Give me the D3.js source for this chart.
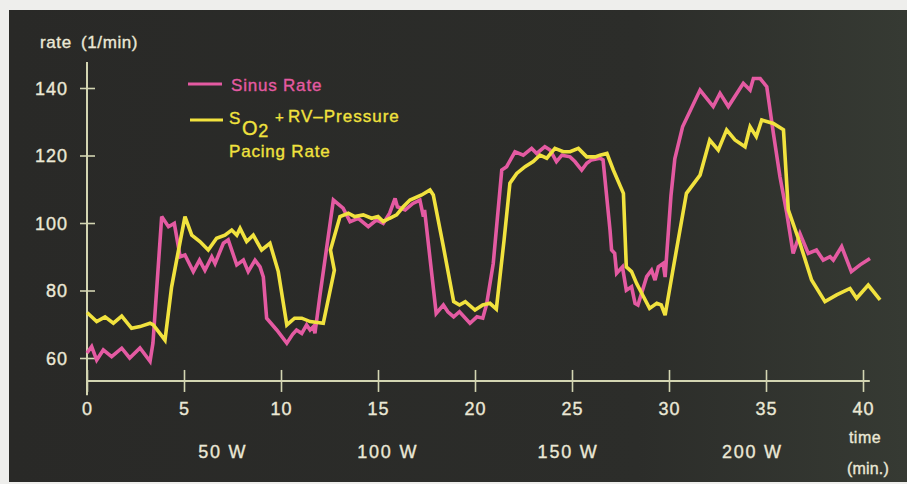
<!DOCTYPE html>
<html>
<head>
<meta charset="utf-8">
<script src="https://cdn.jsdelivr.net/npm/d3@7/dist/d3.min.js"></script>
<style>
  html, body { margin: 0; padding: 0; background: #eeeeec; }
  svg { display: block; }
  text { font-family: "Liberation Sans", Arial, Helvetica, sans-serif; fill: #ebe8d6; }
</style>
</head>
<body>
<svg id="chart" width="907" height="484"></svg>
<script>
// Heart rate during a stepwise bicycle exercise test (time in minutes)
const sinusTime = [0, 0.24, 0.5, 0.84, 1.27, 1.79, 2.2, 2.73, 3.25, 3.4, 3.85, 4.2, 4.5, 4.8, 5.05, 5.48, 5.8, 6.08, 6.43, 6.6, 7.03, 7.28, 7.72, 8.06, 8.31, 8.66, 8.92, 9.09, 9.26, 9.78, 10.3, 10.6, 10.8, 11.07, 11.32, 11.5, 11.67, 11.75, 12.0, 12.7, 13.2, 13.56, 13.98, 14.5, 14.93, 15.27, 15.6, 15.88, 16.0, 16.4, 16.8, 17.16, 17.34, 17.4, 18.0, 18.37, 18.6, 18.9, 19.2, 19.74, 20.1, 20.4, 20.6, 20.94, 21.38, 21.63, 22.06, 22.49, 22.92, 23.18, 23.6, 23.87, 24.2, 24.48, 24.9, 25.15, 25.5, 25.76, 26.0, 26.44, 26.6, 26.96, 27.04, 27.2, 27.3, 27.6, 27.8, 28.07, 28.25, 28.4, 28.85, 29.1, 29.28, 29.45, 29.7, 29.8, 30.1, 30.3, 30.7, 31.6, 32.28, 32.63, 33.06, 33.83, 34.18, 34.35, 34.7, 35.04, 35.38, 35.72, 36.07, 36.4, 36.75, 37.18, 37.6, 37.95, 38.3, 38.47, 38.9, 39.4, 39.85, 40.36];
const sinusRate = [61.5, 63.4, 59.4, 62.4, 60.4, 62.9, 60, 63, 59, 64.4, 101.9, 98.9, 99.9, 90, 90.5, 85.6, 89, 86, 90, 88, 94, 95, 87.6, 89, 85.6, 89, 87, 84, 71.8, 68.3, 64.4, 67, 68.3, 67.3, 69.8, 68.3, 69.3, 67.3, 78.2, 106.8, 104.4, 100.4, 101.4, 98.9, 100.9, 99.9, 102.9, 107.3, 104.8, 103.9, 105.8, 106.8, 101.9, 103.9, 73.2, 75.7, 73.7, 72.2, 73.7, 70.3, 72.2, 71.8, 76, 88, 115.7, 116.7, 121.1, 120.1, 122.1, 120.6, 122.6, 121.6, 118.2, 120.1, 119.6, 118.2, 115.7, 117.7, 118.7, 119.2, 118.7, 97.9, 92, 91, 85.1, 87, 80.1, 81.1, 76.2, 75.7, 84.1, 86, 83.1, 87, 88, 84, 108, 119, 128.5, 139.4, 134.5, 138.4, 134.5, 141.4, 139.4, 142.8, 142.8, 140.4, 126.6, 113.7, 102.9, 91, 96.9, 91, 92, 89, 90, 89, 93, 85.6, 87.6, 89.5];

const pacingTime = [0, 0.5, 0.93, 1.36, 1.79, 2.3, 2.73, 3.25, 3.42, 4.02, 4.36, 4.62, 5.05, 5.4, 5.82, 6.25, 6.68, 7.11, 7.46, 7.72, 7.89, 8.23, 8.57, 9.0, 9.43, 9.86, 10.3, 10.7, 11.07, 11.5, 12.18, 12.75, 12.55, 13.04, 13.47, 13.8, 14.24, 14.67, 15.0, 15.27, 15.6, 15.96, 16.3, 16.65, 17.25, 17.68, 17.85, 18.37, 18.9, 19.2, 19.5, 20.0, 20.4, 20.77, 21.1, 21.5, 21.8, 22.15, 22.58, 23.0, 23.35, 23.7, 24.12, 24.55, 24.9, 25.33, 25.76, 26.2, 26.44, 26.8, 27.13, 27.65, 27.8, 28.07, 28.33, 28.6, 29.0, 29.37, 29.6, 29.8, 30.2, 30.9, 31.6, 32.1, 32.54, 32.97, 33.4, 33.92, 34.18, 34.5, 34.78, 35.38, 35.9, 36.15, 36.75, 37.35, 38.04, 38.64, 39.33, 39.67, 40.27, 40.88];
const pacingRate = [73.5, 70.8, 72.2, 70.3, 72.4, 68.8, 69.3, 70.3, 69.8, 65.3, 81, 89, 101.9, 96.4, 94.5, 92, 95.5, 96.4, 97.9, 96.4, 98.4, 94.5, 96.4, 92, 94, 85.6, 69.8, 71.8, 71.8, 70.8, 70.3, 86, 92, 101.9, 102.9, 101.9, 102.4, 101.4, 101.9, 100.4, 101.4, 102.4, 104.8, 106.8, 108.3, 109.8, 108.3, 93, 76.7, 75.7, 76.7, 74.2, 75.7, 76.2, 74.5, 95, 111.8, 114.7, 116.7, 118.2, 120.1, 119.2, 122.1, 121.1, 121.1, 122.1, 119.6, 119.6, 120.1, 120.6, 115.7, 108.8, 87, 85.6, 82.1, 79.1, 74.7, 76.2, 75.7, 72.7, 86, 108.8, 114.2, 124.6, 121.6, 127.6, 124.6, 122.6, 128.5, 125.6, 130.5, 129.5, 127.6, 103.9, 94, 83.1, 76.7, 78.7, 80.6, 77.7, 81.6, 77.2];

const yTicks = [60, 80, 100, 120, 140];
const xTicks = [0, 5, 10, 15, 20, 25, 30, 35, 40];
const workloadLabels = ["50 W", "100 W", "150 W", "200 W"];
const workloadAt = [7, 15.5, 24.8, 34.3];

const svg = d3.select("#chart");

// dark backdrop
const defs = svg.append("defs");
const grad = defs.append("linearGradient").attr("id", "bg").attr("x1", 0).attr("x2", 1).attr("y1", 0).attr("y2", 0);
grad.append("stop").attr("offset", "0%").attr("stop-color", "#292927");
grad.append("stop").attr("offset", "70%").attr("stop-color", "#2c2d2a");
grad.append("stop").attr("offset", "100%").attr("stop-color", "#363a33");
svg.append("rect").attr("x", 9).attr("y", 10).attr("width", 898).attr("height", 472).attr("fill", "url(#bg)");

const x = d3.scaleLinear().domain([0, 40]).range([87, 863]);
const y = d3.scaleLinear().domain([60, 140]).range([358, 88]);

const axisColor = "#d3d5b2";
const labelColor = "#ebe8d6";
const xAxisAt = 53.2;     // value where the time axis sits
const yAxisTop = 147.7;   // upper end of the rate axis
const yAxisBottom = 49;   // rate axis runs a little past the time axis

// rate axis
const yAxis = svg.append("g").attr("transform", `translate(${x(0)},0)`)
  .call(d3.axisLeft(y).tickValues(yTicks).tickSize(0).tickPadding(19));
yAxis.select(".domain").remove();
yAxis.selectAll(".tick line").attr("x1", -7).attr("x2", 8).attr("stroke", axisColor).attr("stroke-width", 1.6);
yAxis.selectAll(".tick text").attr("font-size", 18).attr("letter-spacing", 1).attr("fill", labelColor)
  .attr("dy", "0.36em");
yAxis.append("line").attr("x1", 0).attr("x2", 0).attr("y1", y(yAxisTop)).attr("y2", y(yAxisBottom))
  .attr("stroke", axisColor).attr("stroke-width", 2);

// time axis
const xAxis = svg.append("g").attr("transform", `translate(0,${y(xAxisAt)})`)
  .call(d3.axisBottom(x).tickValues(xTicks).tickSize(0).tickPadding(21));
xAxis.select(".domain").remove();
xAxis.selectAll(".tick line").attr("y1", -11).attr("y2", 11).attr("stroke", axisColor).attr("stroke-width", 1.6);
xAxis.selectAll(".tick text").attr("font-size", 18).attr("letter-spacing", 1).attr("fill", labelColor);
xAxis.append("line").attr("x1", x(0)).attr("x2", x(40.35)).attr("y1", 0).attr("y2", 0)
  .attr("stroke", axisColor).attr("stroke-width", 2);

// workload stage labels
svg.append("g").selectAll("text").data(workloadLabels).join("text")
  .attr("x", (d, i) => x(workloadAt[i])).attr("y", 458)
  .attr("text-anchor", "middle").attr("font-size", 18).attr("letter-spacing", 1.8)
  .text(d => d);

svg.append("text").attr("x", 865).attr("y", 443).attr("text-anchor", "middle")
  .attr("font-size", 16).attr("letter-spacing", 0.5).text("time");
svg.append("text").attr("x", 868).attr("y", 474).attr("text-anchor", "middle")
  .attr("font-size", 16).attr("letter-spacing", 0.2).text("(min.)");

svg.append("text").attr("x", 40).attr("y", 48).attr("font-size", 17).attr("letter-spacing", 0.6)
  .attr("word-spacing", 4).text("rate (1/min)");

// series
const pink = "#e45aa2";
const yellow = "#f1e23e";
const line = d3.line().x(d => x(d[0])).y(d => y(d[1]));
const sinusPts = sinusTime.map((t, i) => [t, sinusRate[i]]);
const pacingPts = pacingTime.map((t, i) => [t, pacingRate[i]]);

svg.append("path").datum(sinusPts).attr("d", line).attr("fill", "none")
  .attr("stroke", pink).attr("stroke-width", 3.6).attr("stroke-linejoin", "miter").attr("stroke-miterlimit", 3);
svg.append("path").datum(pacingPts).attr("d", line).attr("fill", "none")
  .attr("stroke", yellow).attr("stroke-width", 3.6).attr("stroke-linejoin", "miter").attr("stroke-miterlimit", 3);

// legend
const lg = svg.append("g");
lg.append("line").attr("x1", 188).attr("x2", 222).attr("y1", 84).attr("y2", 84).attr("stroke", pink).attr("stroke-width", 3);
lg.append("text").attr("x", 231).attr("y", 91).attr("font-size", 17).attr("letter-spacing", 0.8)
  .style("fill", pink).text("Sinus Rate");
lg.append("line").attr("x1", 190).attr("x2", 223).attr("y1", 120).attr("y2", 120).attr("stroke", yellow).attr("stroke-width", 3);
const lt = lg.append("text").attr("x", 229).attr("y", 124).attr("font-size", 17).attr("letter-spacing", 0.8)
  .style("fill", yellow);
lt.append("tspan").text("S");
lt.append("tspan").attr("x", 242).attr("y", 135).attr("font-size", 20).text("O");
lt.append("tspan").attr("y", 137).attr("font-size", 18).text("2");
lt.append("tspan").attr("x", 275).attr("y", 122).attr("font-size", 15).text("+");
lt.append("tspan").attr("x", 288).attr("y", 122).attr("font-size", 17).attr("letter-spacing", 1).text("RV–Pressure");
lg.append("text").attr("x", 229).attr("y", 157).attr("font-size", 17).attr("letter-spacing", 0.8)
  .style("fill", yellow).text("Pacing Rate");

// slightly heavier type, like the printed lettering
svg.selectAll("text").each(function () {
  const f = getComputedStyle(this).fill;
  d3.select(this).style("stroke", f).style("stroke-width", 0.35);
});
</script>
</body>
</html>
